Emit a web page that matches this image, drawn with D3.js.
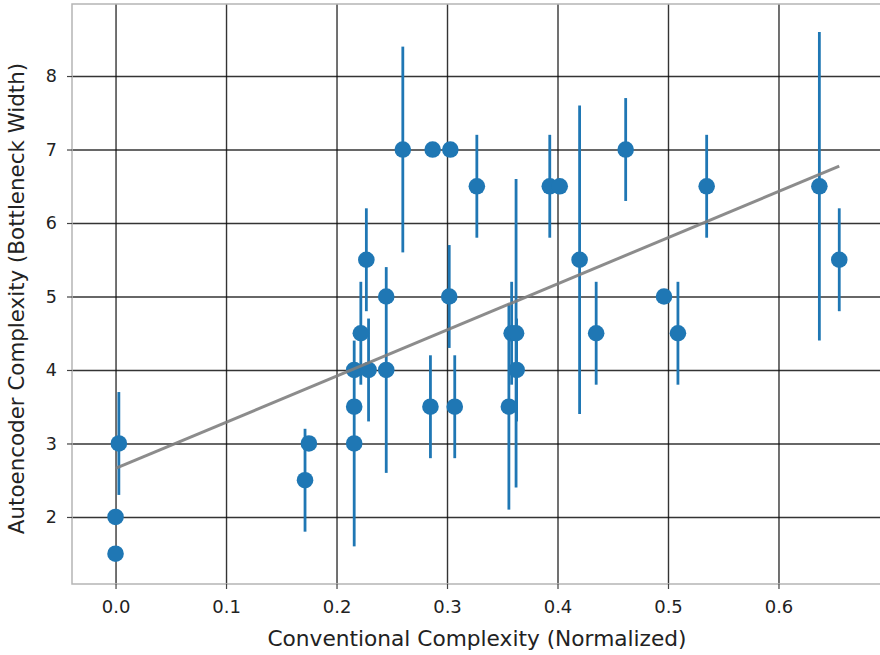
<!DOCTYPE html>
<html>
<head>
<meta charset="utf-8">
<script src="https://cdn.jsdelivr.net/npm/d3@7"></script>
<style>
  html, body { margin: 0; padding: 0; background: #fff; }
  svg { display: block; overflow: hidden; }
  text { font-family: "DejaVu Sans", sans-serif; fill: #222; }
</style>
</head>
<body>
<div id="chart"></div>
<script>
// Conventional complexity (x), autoencoder bottleneck width (y), error (±)
const xValues = [0.000, 0.000, 0.003, 0.1715, 0.175, 0.216, 0.216, 0.216, 0.222, 0.227,
  0.229, 0.245, 0.245, 0.260, 0.285, 0.287, 0.302, 0.303, 0.307, 0.327,
  0.356, 0.3585, 0.3625, 0.363, 0.393, 0.402, 0.420, 0.435, 0.4617, 0.4964,
  0.509, 0.535, 0.637, 0.655];
const yValues = [1.5, 2.0, 3.0, 2.5, 3.0, 4.0, 3.5, 3.0, 4.5, 5.5,
  4.0, 5.0, 4.0, 7.0, 3.5, 7.0, 5.0, 7.0, 3.5, 6.5,
  3.5, 4.5, 4.5, 4.0, 6.5, 6.5, 5.5, 4.5, 7.0, 5.0,
  4.5, 6.5, 6.5, 5.5];
const yErrors = [0, 0, 0.7, 0.7, 0, 0, 0, 1.4, 0.7, 0.7,
  0.7, 0, 1.4, 1.4, 0.7, 0, 0.7, 0, 0.7, 0.7,
  1.4, 0.7, 2.1, 0.7, 0.7, 0, 2.1, 0.7, 0.7, 0,
  0.7, 0.7, 2.1, 0.7];

// fitted trend line (intercept, slope) over the x range of the data
const fitIntercept = 2.66;
const fitSlope = 6.28;

const xTicks = [0.0, 0.1, 0.2, 0.3, 0.4, 0.5, 0.6];
const yTicks = [2, 3, 4, 5, 6, 7, 8];

const width = 880;
const height = 655;
const margin = { top: 4, right: -5, bottom: 71, left: 72 };

const points = xValues.map((x, i) => ({ x, y: yValues[i], err: yErrors[i] }));

const svg = d3.select("#chart")
  .append("svg")
  .attr("width", width)
  .attr("height", height);

const xScale = d3.scaleLinear()
  .domain([-0.0394, 0.6964])
  .range([margin.left, width - margin.right]);

const yScale = d3.scaleLinear()
  .domain([1.088, 8.98])
  .range([height - margin.bottom, margin.top]);

const plotW = width - margin.right - margin.left;
const plotH = height - margin.bottom - margin.top;

// grid lines
const grid = svg.append("g").attr("class", "grid");
grid.append("g")
  .attr("transform", `translate(0,${height - margin.bottom})`)
  .call(d3.axisBottom(xScale).tickValues(xTicks).tickSize(-plotH).tickFormat(""))
  .call(g => g.select(".domain").remove())
  .selectAll("line")
  .attr("stroke", "#111")
  .attr("stroke-width", 1.4)
  .attr("stroke-opacity", 0.85);
grid.append("g")
  .attr("transform", `translate(${margin.left},0)`)
  .call(d3.axisLeft(yScale).tickValues(yTicks).tickSize(-plotW).tickFormat(""))
  .call(g => g.select(".domain").remove())
  .selectAll("line")
  .attr("stroke", "#111")
  .attr("stroke-width", 1.4)
  .attr("stroke-opacity", 0.85);

// frame
svg.append("rect")
  .attr("x", margin.left)
  .attr("y", margin.top)
  .attr("width", plotW)
  .attr("height", plotH)
  .attr("fill", "none")
  .attr("stroke", "#b5b5b5")
  .attr("stroke-width", 1.5);

// axes
const xAxis = svg.append("g")
  .attr("transform", `translate(0,${height - margin.bottom})`)
  .call(d3.axisBottom(xScale).tickValues(xTicks).tickSize(5).tickPadding(11).tickFormat(d3.format(".1f")));
xAxis.select(".domain").remove();
xAxis.selectAll("line").attr("stroke", "#444").attr("stroke-width", 1.2);
xAxis.selectAll("text").attr("font-size", "18px").attr("fill", "#222");

const yAxis = svg.append("g")
  .attr("transform", `translate(${margin.left},0)`)
  .call(d3.axisLeft(yScale).tickValues(yTicks).tickSize(5).tickPadding(10).tickFormat(d3.format("d")));
yAxis.select(".domain").remove();
yAxis.selectAll("line").attr("stroke", "#444").attr("stroke-width", 1.2);
yAxis.selectAll("text").attr("font-size", "17.5px").attr("fill", "#222");

// error bars
svg.append("g")
  .selectAll("line")
  .data(points.filter(d => d.err > 0))
  .enter()
  .append("line")
  .attr("x1", d => xScale(d.x))
  .attr("x2", d => xScale(d.x))
  .attr("y1", d => yScale(d.y - d.err))
  .attr("y2", d => yScale(d.y + d.err))
  .attr("stroke", "#1f77b4")
  .attr("stroke-width", 2.8);

// markers
svg.append("g")
  .selectAll("circle")
  .data(points)
  .enter()
  .append("circle")
  .attr("cx", d => xScale(d.x))
  .attr("cy", d => yScale(d.y))
  .attr("r", 8.3)
  .attr("fill", "#1f77b4");

// trend line
const xMin = d3.min(xValues);
const xMax = d3.max(xValues);
svg.append("line")
  .attr("x1", xScale(xMin))
  .attr("y1", yScale(fitIntercept + fitSlope * xMin))
  .attr("x2", xScale(xMax))
  .attr("y2", yScale(fitIntercept + fitSlope * xMax))
  .attr("stroke", "#808080")
  .attr("stroke-opacity", 0.9)
  .attr("stroke-width", 3);

// axis labels
svg.append("text")
  .attr("x", 477)
  .attr("y", 646)
  .attr("text-anchor", "middle")
  .attr("font-size", "21.7px")
  .text("Conventional Complexity (Normalized)");

svg.append("text")
  .attr("transform", `translate(23.5,298.5) rotate(-90)`)
  .attr("text-anchor", "middle")
  .attr("font-size", "21.4px")
  .text("Autoencoder Complexity (Bottleneck Width)");
</script>
</body>
</html>
